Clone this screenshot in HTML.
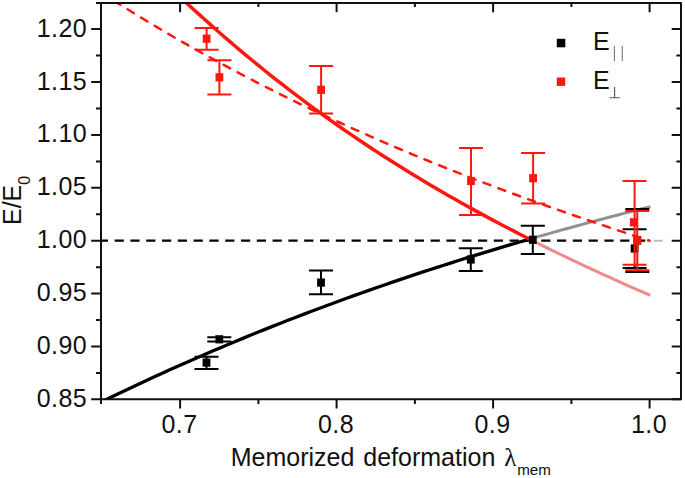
<!DOCTYPE html>
<html><head><meta charset="utf-8"><title>chart</title>
<style>html,body{margin:0;padding:0;background:#fff;}svg{display:block;}text{font-family:"Liberation Sans",sans-serif;fill:#111;}</style>
</head><body>
<svg width="685" height="478" viewBox="0 0 685 478">
<rect width="685" height="478" fill="#fff"/>
<defs><clipPath id="cp"><rect x="101.0" y="2.9" width="580.0" height="396.3"/></clipPath></defs>
<g clip-path="url(#cp)">
<path d="M98.8,240.7 L650.5,240.7" stroke="#000" stroke-width="2.2" stroke-dasharray="9.2 6.6" fill="none"/>
<path d="M654,240.7 L662.8,240.7" stroke="#bdbdbd" stroke-width="2" fill="none"/>
<path d="M95.00,405.06 L102.42,401.42 L109.84,397.81 L117.26,394.24 L124.68,390.69 L132.10,387.18 L139.52,383.70 L146.94,380.25 L154.36,376.83 L161.78,373.44 L169.20,370.08 L176.62,366.75 L184.04,363.46 L191.46,360.19 L198.88,356.95 L206.31,353.74 L213.73,350.56 L221.15,347.41 L228.57,344.29 L235.99,341.19 L243.41,338.13 L250.83,335.09 L258.25,332.08 L265.67,329.10 L273.09,326.14 L280.51,323.22 L287.93,320.31 L295.35,317.44 L302.77,314.59 L310.19,311.77 L317.61,308.98 L325.03,306.21 L332.45,303.46 L339.87,300.74 L347.29,298.05 L354.71,295.38 L362.13,292.73 L369.55,290.11 L376.97,287.52 L384.39,284.94 L391.81,282.40 L399.23,279.87 L406.65,277.37 L414.07,274.89 L421.49,272.44 L428.92,270.00 L436.34,267.59 L443.76,265.20 L451.18,262.84 L458.60,260.49 L466.02,258.17 L473.44,255.86 L480.86,253.58 L488.28,251.32 L495.70,249.08 L503.12,246.86 L510.54,244.66 L517.96,242.48 L525.38,240.32 L532.80,238.18" stroke="#000" stroke-width="3.3" fill="none"/>
<path d="M532.80,238.18 L536.86,237.02 L540.91,235.86 L544.97,234.71 L549.02,233.57 L553.08,232.43 L557.13,231.30 L561.19,230.17 L565.24,229.05 L569.30,227.93 L573.35,226.82 L577.41,225.71 L581.46,224.61 L585.52,223.51 L589.57,222.42 L593.63,221.34 L597.68,220.26 L601.74,219.18 L605.79,218.11 L609.85,217.05 L613.90,215.99 L617.96,214.93 L622.01,213.88 L626.07,212.84 L630.12,211.80 L634.18,210.76 L638.23,209.73 L642.29,208.71 L646.34,207.69 L650.40,206.67" stroke="#929292" stroke-width="3.0" fill="none"/>
<path d="M180.00,-3.23 L185.98,2.37 L191.96,7.92 L197.94,13.39 L203.92,18.81 L209.90,24.17 L215.88,29.47 L221.86,34.70 L227.84,39.88 L233.82,45.00 L239.80,50.07 L245.78,55.07 L251.76,60.02 L257.74,64.92 L263.72,69.76 L269.69,74.54 L275.67,79.28 L281.65,83.95 L287.63,88.58 L293.61,93.15 L299.59,97.68 L305.57,102.15 L311.55,106.57 L317.53,110.95 L323.51,115.27 L329.49,119.55 L335.47,123.77 L341.45,127.96 L347.43,132.09 L353.41,136.18 L359.39,140.23 L365.37,144.23 L371.35,148.18 L377.33,152.10 L383.31,155.97 L389.29,159.80 L395.27,163.59 L401.25,167.33 L407.23,171.04 L413.21,174.71 L419.19,178.34 L425.17,181.93 L431.15,185.48 L437.13,189.00 L443.11,192.48 L449.08,195.93 L455.06,199.34 L461.04,202.71 L467.02,206.06 L473.00,209.37 L478.98,212.64 L484.96,215.89 L490.94,219.10 L496.92,222.28 L502.90,225.44 L508.88,228.56 L514.86,231.65 L520.84,234.72 L526.82,237.76 L532.80,240.77" stroke="#ff1810" stroke-width="3.5" fill="none"/>
<path d="M532.80,240.77 L536.86,242.80 L540.91,244.82 L544.97,246.82 L549.02,248.82 L553.08,250.80 L557.13,252.77 L561.19,254.73 L565.24,256.68 L569.30,258.61 L573.35,260.54 L577.41,262.46 L581.46,264.37 L585.52,266.27 L589.57,268.16 L593.63,270.04 L597.68,271.91 L601.74,273.77 L605.79,275.62 L609.85,277.47 L613.90,279.30 L617.96,281.13 L622.01,282.95 L626.07,284.76 L630.12,286.57 L634.18,288.36 L638.23,290.15 L642.29,291.94 L646.34,293.71 L650.40,295.48" stroke="#f08a8c" stroke-width="3" fill="none"/>
<path d="M98.80,-8.87 L103.43,-5.89 L108.06,-2.94 L112.69,0.00 L117.31,2.92 L121.94,5.82 L126.57,8.70 L131.20,11.56 L135.83,14.41 L140.46,17.23 L145.09,20.03 L149.71,22.82 L154.34,25.59 L158.97,28.34 L163.60,31.07 L168.23,33.78 L172.86,36.47 L177.49,39.15 L182.11,41.81 L186.74,44.45 L191.37,47.07 L196.00,49.68 L200.63,52.27 L205.26,54.84 L209.89,57.39 L214.51,59.93 L219.14,62.45 L223.77,64.95 L228.40,67.44 L233.03,69.91 L237.66,72.37 L242.29,74.80 L246.91,77.23 L251.54,79.63 L256.17,82.02 L260.80,84.40 L265.43,86.76 L270.06,89.10 L274.69,91.43 L279.31,93.74 L283.94,96.04 L288.57,98.33 L293.20,100.59 L297.83,102.85 L302.46,105.09 L307.09,107.31 L311.71,109.52 L316.34,111.72 L320.97,113.90 L325.60,116.07 L330.23,118.23 L334.86,120.37 L339.49,122.49 L344.11,124.61 L348.74,126.71 L353.37,128.80 L358.00,130.87 L362.63,132.93 L367.26,134.98 L371.89,137.02 L376.51,139.04 L381.14,141.05 L385.77,143.05 L390.40,145.04 L395.03,147.01 L399.66,148.98 L404.29,150.93 L408.91,152.87 L413.54,154.79 L418.17,156.71 L422.80,158.61 L427.43,160.51 L432.06,162.39 L436.69,164.26 L441.31,166.12 L445.94,167.97 L450.57,169.81 L455.20,171.64 L459.83,173.46 L464.46,175.27 L469.09,177.07 L473.71,178.86 L478.34,180.64 L482.97,182.41 L487.60,184.17 L492.23,185.92 L496.86,187.66 L501.49,189.39 L506.11,191.11 L510.74,192.83 L515.37,194.53 L520.00,196.23 L524.63,197.92 L529.26,199.60 L533.89,201.27 L538.51,202.93 L543.14,204.58 L547.77,206.23 L552.40,207.87 L557.03,209.50 L561.66,211.13 L566.29,212.74 L570.91,214.35 L575.54,215.95 L580.17,217.55 L584.80,219.14 L589.43,220.72 L594.06,222.29 L598.69,223.86 L603.31,225.42 L607.94,226.98 L612.57,228.53 L617.20,230.07 L621.83,231.61 L626.46,233.14 L631.09,234.67 L635.71,236.19 L640.34,237.70 L644.97,239.21 L649.60,240.71" stroke="#ff1810" stroke-width="2.5" stroke-dasharray="7.3 8.56" stroke-dashoffset="-2.3" stroke-linecap="round" fill="none"/>
</g>
<path d="M206.5,356.7 L206.5,369.0" stroke="#000" stroke-width="2.0" fill="none"/><path d="M194.5,356.7 L218.5,356.7 M194.5,369.0 L218.5,369.0" stroke="#000" stroke-width="2" fill="none"/><rect x="202.6" y="358.5" width="7.8" height="8.2" fill="#000"/>
<path d="M219.3,337.3 L219.3,341.4" stroke="#000" stroke-width="2.0" fill="none"/><path d="M207.3,337.3 L231.3,337.3 M207.3,341.4 L231.3,341.4" stroke="#000" stroke-width="2" fill="none"/><rect x="215.4" y="335.2" width="7.8" height="8.2" fill="#000"/>
<path d="M321.0,270.6 L321.0,294.2" stroke="#000" stroke-width="2.0" fill="none"/><path d="M309.0,270.6 L333.0,270.6 M309.0,294.2 L333.0,294.2" stroke="#000" stroke-width="2" fill="none"/><rect x="317.1" y="278.5" width="7.8" height="8.2" fill="#000"/>
<path d="M470.8,248.2 L470.8,271.1" stroke="#000" stroke-width="2.0" fill="none"/><path d="M458.8,248.2 L482.8,248.2 M458.8,271.1 L482.8,271.1" stroke="#000" stroke-width="2" fill="none"/><rect x="466.9" y="255.4" width="7.8" height="8.2" fill="#000"/>
<path d="M532.8,225.7 L532.8,254.1" stroke="#000" stroke-width="2.0" fill="none"/><path d="M520.8,225.7 L544.8,225.7 M520.8,254.1 L544.8,254.1" stroke="#000" stroke-width="2" fill="none"/><rect x="528.9" y="235.7" width="7.8" height="8.2" fill="#000"/>
<path d="M634.6,229.2 L634.6,268.0" stroke="#000" stroke-width="1.0" fill="none"/><path d="M622.6,229.2 L646.6,229.2 M622.6,268.0 L646.6,268.0" stroke="#000" stroke-width="2" fill="none"/><rect x="630.7" y="244.4" width="7.8" height="8.2" fill="#000"/>
<path d="M637.3,209.0 L637.3,272.1" stroke="#000" stroke-width="1.0" fill="none"/><path d="M625.3,209.0 L649.3,209.0 M625.3,272.1 L649.3,272.1" stroke="#000" stroke-width="2" fill="none"/><rect x="633.4" y="236.4" width="7.8" height="8.2" fill="#000"/>
<path d="M634.6,265.5 L634.6,268" stroke="#000" stroke-width="2" fill="none"/>
<path d="M206.6,27.9 L206.6,49.8" stroke="#ff1810" stroke-width="2.0" fill="none"/><path d="M194.6,27.9 L218.6,27.9 M194.6,49.8 L218.6,49.8" stroke="#ff1810" stroke-width="2" fill="none"/><rect x="202.7" y="34.6" width="7.8" height="8.2" fill="#ff1810"/>
<path d="M219.4,60.2 L219.4,94.6" stroke="#ff1810" stroke-width="2.0" fill="none"/><path d="M207.4,60.2 L231.4,60.2 M207.4,94.6 L231.4,94.6" stroke="#ff1810" stroke-width="2" fill="none"/><rect x="215.5" y="73.2" width="7.8" height="8.2" fill="#ff1810"/>
<path d="M321.1,66.1 L321.1,113.4" stroke="#ff1810" stroke-width="2.0" fill="none"/><path d="M309.1,66.1 L333.1,66.1 M309.1,113.4 L333.1,113.4" stroke="#ff1810" stroke-width="2" fill="none"/><rect x="317.2" y="85.7" width="7.8" height="8.2" fill="#ff1810"/>
<path d="M471.0,147.9 L471.0,215.1" stroke="#ff1810" stroke-width="2.0" fill="none"/><path d="M459.0,147.9 L483.0,147.9 M459.0,215.1 L483.0,215.1" stroke="#ff1810" stroke-width="2" fill="none"/><rect x="467.1" y="176.9" width="7.8" height="8.2" fill="#ff1810"/>
<path d="M533.1,153.1 L533.1,203.4" stroke="#ff1810" stroke-width="2.0" fill="none"/><path d="M521.1,153.1 L545.1,153.1 M521.1,203.4 L545.1,203.4" stroke="#ff1810" stroke-width="2" fill="none"/><rect x="529.2" y="174.1" width="7.8" height="8.2" fill="#ff1810"/>
<path d="M634.6,181.0 L634.6,264.7" stroke="#ff1810" stroke-width="2.0" fill="none"/><path d="M622.6,181.0 L646.6,181.0 M622.6,264.7 L646.6,264.7" stroke="#ff1810" stroke-width="2" fill="none"/><rect x="629.9" y="218.2" width="7.8" height="8.2" fill="#ff1810"/>
<path d="M637.3,211.0 L637.3,270.3" stroke="#ff1810" stroke-width="2.0" fill="none"/><path d="M625.3,211.0 L649.3,211.0 M625.3,270.3 L649.3,270.3" stroke="#ff1810" stroke-width="2" fill="none"/><rect x="633.4" y="236.1" width="7.8" height="8.2" fill="#ff1810"/>
<path d="M101.0,2.9 L681.0,2.9 L681.0,399.2 L101.0,399.2 Z" stroke="#111" stroke-width="2" fill="none" stroke-linejoin="round"/>
<path d="M101.0,399.2 L101.0,404.0 M101.0,2.9 L101.0,7.1 M180.1,399.2 L180.1,408.5 M180.1,2.9 L180.1,12.200000000000001 M258.4,399.2 L258.4,404.0 M258.4,2.9 L258.4,7.1 M336.6,399.2 L336.6,408.5 M336.6,2.9 L336.6,12.200000000000001 M414.9,399.2 L414.9,404.0 M414.9,2.9 L414.9,7.1 M493.1,399.2 L493.1,408.5 M493.1,2.9 L493.1,12.200000000000001 M571.4,399.2 L571.4,404.0 M571.4,2.9 L571.4,7.1 M649.6,399.2 L649.6,408.5 M649.6,2.9 L649.6,12.200000000000001 M101.0,399.2 L91.2,399.2 M681.0,399.2 L671.7,399.2 M101.0,372.9 L96.0,372.9 M681.0,372.9 L676.4,372.9 M101.0,346.5 L91.2,346.5 M681.0,346.5 L671.7,346.5 M101.0,320.0 L96.0,320.0 M681.0,320.0 L676.4,320.0 M101.0,293.6 L91.2,293.6 M681.0,293.6 L671.7,293.6 M101.0,267.2 L96.0,267.2 M681.0,267.2 L676.4,267.2 M101.0,240.7 L91.2,240.7 M681.0,240.7 L671.7,240.7 M101.0,214.3 L96.0,214.3 M681.0,214.3 L676.4,214.3 M101.0,187.8 L91.2,187.8 M681.0,187.8 L671.7,187.8 M101.0,161.4 L96.0,161.4 M681.0,161.4 L676.4,161.4 M101.0,134.9 L91.2,134.9 M681.0,134.9 L671.7,134.9 M101.0,108.4 L96.0,108.4 M681.0,108.4 L676.4,108.4 M101.0,82.0 L91.2,82.0 M681.0,82.0 L671.7,82.0 M101.0,55.5 L96.0,55.5 M681.0,55.5 L676.4,55.5 M101.0,29.1 L91.2,29.1 M681.0,29.1 L671.7,29.1 M101.0,2.9 L96.0,2.9 M681.0,2.9 L676.4,2.9" stroke="#111" stroke-width="2" fill="none"/>
<text x="87.2" y="406.9" font-size="25" text-anchor="end" letter-spacing="0.45">0.85</text>
<text x="87.2" y="354.0" font-size="25" text-anchor="end" letter-spacing="0.45">0.90</text>
<text x="87.2" y="301.1" font-size="25" text-anchor="end" letter-spacing="0.45">0.95</text>
<text x="87.2" y="248.2" font-size="25" text-anchor="end" letter-spacing="0.45">1.00</text>
<text x="87.2" y="195.3" font-size="25" text-anchor="end" letter-spacing="0.45">1.05</text>
<text x="87.2" y="142.4" font-size="25" text-anchor="end" letter-spacing="0.45">1.10</text>
<text x="87.2" y="89.5" font-size="25" text-anchor="end" letter-spacing="0.45">1.15</text>
<text x="87.2" y="36.6" font-size="25" text-anchor="end" letter-spacing="0.45">1.20</text>
<text x="179.5" y="433.4" font-size="25" text-anchor="middle" letter-spacing="0.35">0.7</text>
<text x="336.0" y="433.4" font-size="25" text-anchor="middle" letter-spacing="0.35">0.8</text>
<text x="492.5" y="433.4" font-size="25" text-anchor="middle" letter-spacing="0.35">0.9</text>
<text x="649.0" y="433.4" font-size="25" text-anchor="middle" letter-spacing="0.35">1.0</text>
<text x="230.7" y="465.8" font-size="25" word-spacing="2">Memorized deformation <tspan font-family="Liberation Serif" font-size="25" dx="0">λ</tspan><tspan font-size="15.2" dy="8.8" dx="0.8">mem</tspan></text>
<text transform="translate(21.3,225) rotate(-90)" font-size="25">E/E<tspan font-size="16" dy="8.2">0</tspan></text>
<rect x="556.8" y="38.8" width="8.5" height="8.5" fill="#000"/>
<rect x="556.8" y="77.5" width="8.4" height="8.4" fill="#ff1810"/>
<text x="593" y="50.1" font-size="25">E</text>
<text x="593" y="88.7" font-size="25">E</text>
<path d="M614.4,46 L614.4,61 M622.3,46 L622.3,61" stroke="#7a7a6a" stroke-width="1.1" fill="none"/>
<path d="M614.6,87 L614.6,97.8 M609.4,97.8 L619.8,97.8" stroke="#555" stroke-width="1.1" fill="none"/>
</svg></body></html>
